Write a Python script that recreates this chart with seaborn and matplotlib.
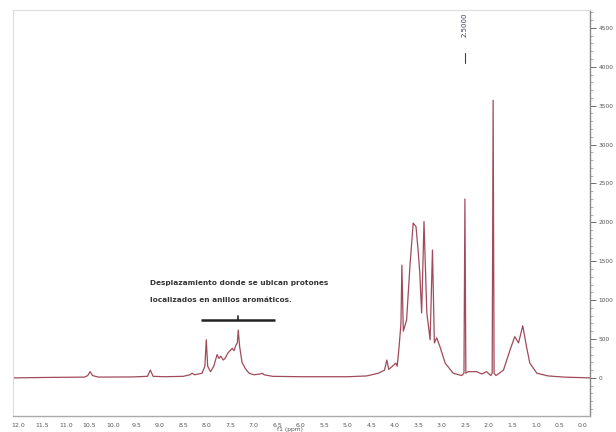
import numpy as np
import pandas as pd
import matplotlib
matplotlib.use("Agg")
import matplotlib.pyplot as plt
from matplotlib.ticker import MultipleLocator, FormatStrFormatter
import seaborn as sns

# Spectrum trace (ppm, intensity)
ppm = [12.10, 11.50, 11.00, 10.60, 10.53, 10.48, 10.43, 10.30, 9.60, 9.26,
       9.20, 9.14, 8.90, 8.50, 8.36, 8.31, 8.26, 8.10, 8.04, 8.01,
       7.98, 7.92, 7.85, 7.78, 7.74, 7.70, 7.65, 7.61, 7.55, 7.46,
       7.42, 7.38, 7.35, 7.33, 7.30, 7.25, 7.18, 7.10, 7.00, 6.86,
       6.82, 6.78, 6.60, 6.00, 5.00, 4.60, 4.35, 4.22, 4.17, 4.13,
       4.05, 3.98, 3.95, 3.91, 3.87, 3.85, 3.82, 3.75, 3.68, 3.61,
       3.55, 3.50, 3.47, 3.43, 3.38, 3.32, 3.25, 3.20, 3.16, 3.11,
       3.04, 2.93, 2.76, 2.58, 2.53, 2.51, 2.49, 2.44, 2.26, 2.15,
       2.05, 1.96, 1.93, 1.91, 1.89, 1.85, 1.69, 1.55, 1.45, 1.37,
       1.28, 1.20, 1.13, 0.98, 0.74, 0.40, -0.15]
intensity = [0, 5, 8, 10, 30, 80, 30, 10, 12, 20,
             100, 20, 15, 20, 40, 60, 40, 60, 150, 490,
             150, 80, 150, 300, 250, 280, 230, 250, 320, 380,
             350, 420, 450, 615, 400, 200, 120, 60, 40, 50,
             60, 40, 20, 15, 15, 25, 60, 100, 230, 110,
             150, 190, 150, 400, 700, 1450, 600, 745, 1430, 1990,
             1945, 1600, 1350, 835, 2010, 835, 490, 1645, 450, 515,
             400, 190, 60, 30, 60, 2300, 60, 80, 80, 50,
             80, 30, 60, 3570, 60, 30, 100, 360, 530, 450,
             670, 400, 190, 60, 25, 10, 0]

ytick_values = [0, 500, 1000, 1500, 2000, 2500, 3000, 3500, 4000, 4500]
peak_label = "2.5000"
note_lines = ["Desplazamiento donde se ubican protones",
              "localizados en anillos aromáticos."]
x_label = "f1 (ppm)"

df = pd.DataFrame({"ppm": ppm, "intensity": intensity})

sns.set_style("white")
plt.rcParams["font.family"] = ["DejaVu Sans"]

fig = plt.figure(figsize=(6.16, 4.32), dpi=100)
W, H = 616, 432
ax = fig.add_axes([13 / W, 1 - 416 / H, (590 - 13) / W, (416 - 10) / H])

sns.lineplot(data=df, x="ppm", y="intensity", ax=ax, color="#a04a5a",
             linewidth=0.9, estimator=None, sort=False)

ax.set_xlim(12.12, -0.15)
ax.set_ylim(-490, 4730)

ax.xaxis.set_major_locator(MultipleLocator(0.5))
ax.xaxis.set_minor_locator(MultipleLocator(0.1))
ax.xaxis.set_major_formatter(FormatStrFormatter("%.1f"))
ax.tick_params(axis="x", which="major", direction="inout", length=4, width=0.6,
               labelsize=4.5, colors="#555555", pad=3)
ax.tick_params(axis="x", which="minor", direction="inout", length=2, width=0.4,
               colors="#777777")

ax.yaxis.tick_right()
ax.set_yticks(ytick_values)
ax.yaxis.set_minor_locator(MultipleLocator(100))
ax.tick_params(axis="y", which="major", direction="out", length=4, width=0.6,
               labelsize=4.2, colors="#555555", pad=2)
ax.tick_params(axis="y", which="minor", direction="out", length=2, width=0.4,
               colors="#777777")

for side in ["top", "left"]:
    ax.spines[side].set_color("#dddddd")
    ax.spines[side].set_linewidth(0.8)
ax.spines["right"].set_color("#888888")
ax.spines["right"].set_linewidth(1.0)
ax.spines["bottom"].set_color("#aaaaaa")
ax.spines["bottom"].set_linewidth(1.0)

ax.set_xlabel("")
ax.set_ylabel("")
fig.text(290 / W, 0.5 / H, x_label, ha="center", va="bottom", fontsize=4.3,
         color="#555555")

# annotation bar and text
ax.plot([8.12, 6.55], [745, 745], color="#222222", linewidth=1.8,
        solid_capstyle="butt")
ax.plot([7.33, 7.33], [745, 800], color="#222222", linewidth=1.2)
ax.text(9.2, 1221, note_lines[0], fontsize=5.3, fontweight="bold",
        color="#333333", ha="left", va="center")
ax.text(9.2, 1003, note_lines[1], fontsize=5.3, fontweight="bold",
        color="#333333", ha="left", va="center")

# peak label at top
ax.text(2.51, 4700, peak_label, rotation=90, fontsize=5, color="#3a3f5c",
        ha="center", va="top")
ax.plot([2.51, 2.51], [4180, 4050], color="#3a3f5c", linewidth=0.8)

fig.savefig("out.png", dpi=100)
